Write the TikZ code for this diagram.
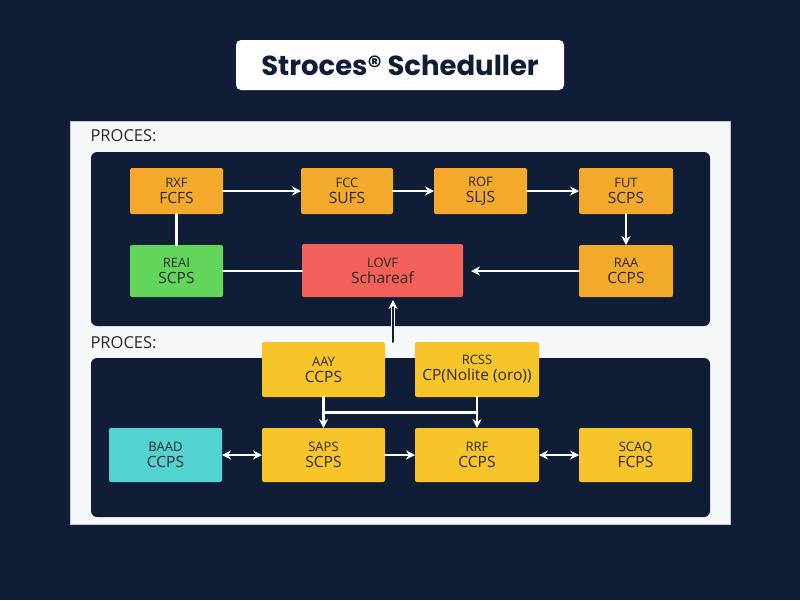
\documentclass[tikz,border=0pt]{standalone}
\usepackage{fontspec}
\setmainfont{Open Sans}
\newfontfamily\titlefont{Poppins}
\usetikzlibrary{arrows.meta,calc}
\definecolor{navy}{HTML}{0F1E36}
\definecolor{panel}{HTML}{F6F8FA}
\definecolor{boxorange}{HTML}{F3A92C}
\definecolor{boxyellow}{HTML}{F7C52A}
\definecolor{boxgreen}{HTML}{62D65B}
\definecolor{boxred}{HTML}{F2625B}
\definecolor{boxcyan}{HTML}{52D3D1}
\definecolor{ink}{HTML}{2B2A28}
\begin{document}
\begin{tikzpicture}[x=1pt,y=-1pt,line join=round,line cap=round,>={Stealth[length=9pt,width=9pt]},
		proc/.style={rounded corners=2pt,align=center,inner sep=0pt,outer sep=0pt,text=ink,font=\fontsize{13}{16}\selectfont},
		link/.style={white,line width=2.5pt}]
			\def \W{800}
			\def \H{600}
			\fill[navy] (0,0) rectangle (\W,\H);
			\node[fill=white,rounded corners=5pt,minimum width=328pt,minimum height=50pt,
				font=\titlefont\bfseries\fontsize{27.5}{32}\selectfont,text=navy] (title) at (400,65) {Stroces® Scheduller};
			\filldraw[fill=panel,draw=gray!45] (70,121) rectangle (730,524);
			\node[anchor=west,text=ink,font=\fontsize{16.5}{19}\selectfont] (lab1) at (87,136) {PROCES:};
			\node[anchor=west,text=ink,font=\fontsize{16.5}{19}\selectfont] (lab2) at (87,343) {PROCES:};
			\fill[navy,rounded corners=6pt] (91,152) rectangle (710,326);
			\fill[navy,rounded corners=6pt] (91,358) rectangle (710,517);
			% boxes: name/x/y/width/height/colour/first line/second line
			\foreach \n/\cx/\cy/\w/\h/\col/\la/\lb in {
				rxf/176.5/191/93/46/boxorange/RXF/FCFS,
				fcc/347/191/92/46/boxorange/FCC/SUFS,
				rof/480.5/191/93/46/boxorange/ROF/SLJS,
				fut/626/191/94/46/boxorange/FUT/SCPS,
				reai/176.5/271/93/52/boxgreen/REAI/SCPS,
				lovf/382.5/270.5/161/53/boxred/LOVF/Schareaf,
				raa/626/271/94/52/boxorange/RAA/CCPS,
				aay/323.5/369.5/123/55/boxyellow/AAY/CCPS,
				rcss/477/369.5/124/55/boxyellow/RCSS/CP(Nolite (oro)),
				baad/165.5/455/113/54/boxcyan/BAAD/CCPS,
				saps/323.5/455/123/54/boxyellow/SAPS/SCPS,
				rrf/477/455/124/54/boxyellow/RRF/CCPS,
				scaq/635.5/455/113/54/boxyellow/SCAQ/FCPS}{
				\node[proc,fill=\col,minimum width=\w pt,minimum height=\h pt] (\n) at (\cx,\cy)
					{\la\\{\fontsize{15.5}{18}\selectfont\lb}};	}
			\draw[link,->] (rxf) -- (fcc);
			\draw[link,->] (fcc) -- (rof);
			\draw[link,->] (rof) -- (fut);
			\draw[link,->] (fut) -- (raa);
			\draw[link] (rxf) -- (reai);
			\draw[link] (reai.east) -- (reai.east -| lovf.west);
			\draw[link,->,shorten >=8pt] (raa) -- (raa -| lovf.east);
			\coordinate (feed) at (393,342);
			\draw[white,line width=1.2pt,double=navy,double distance=2pt,->,shorten >=3pt] (feed) -- (feed |- lovf.south);
			\draw[link,->] (aay) -- (saps);
			\draw[link,->] (rcss) -- (rrf);
			\draw[link] ($(aay.south)!.5!(saps.north)$) -- ($(rcss.south)!.5!(rrf.north)$);
			\draw[link,<->] (baad) -- (saps);
			\draw[link,->] (saps) -- (rrf);
			\draw[link,<->] (rrf) -- (scaq);
		\end{tikzpicture}
\end{document}
